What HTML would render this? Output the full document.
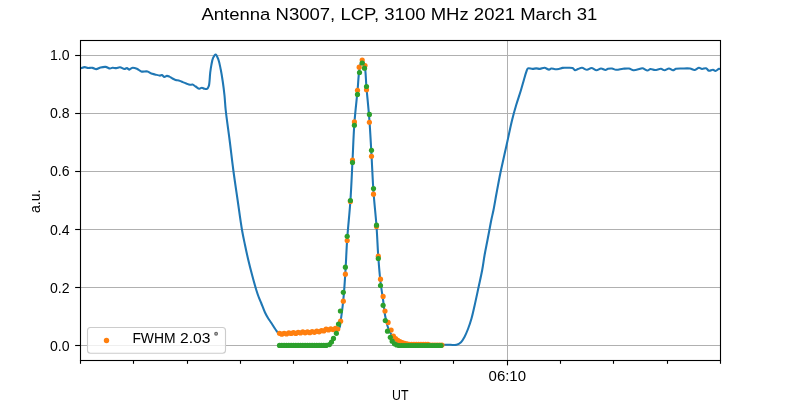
<!DOCTYPE html>
<html><head><meta charset="utf-8"><style>
html,body{margin:0;padding:0;background:#fff;width:800px;height:400px;overflow:hidden}
svg{display:block;will-change:transform}
</style></head><body>
<svg width="800" height="400" viewBox="0 0 800 400">
<rect width="800" height="400" fill="#fff"/>
<g stroke="#b0b0b0" stroke-width="1.11" shape-rendering="crispEdges"><line x1="80" y1="345.50" x2="720" y2="345.50"/><line x1="80" y1="287.50" x2="720" y2="287.50"/><line x1="80" y1="229.50" x2="720" y2="229.50"/><line x1="80" y1="171.50" x2="720" y2="171.50"/><line x1="80" y1="113.50" x2="720" y2="113.50"/><line x1="80" y1="55.50" x2="720" y2="55.50"/><line x1="507.5" y1="40" x2="507.5" y2="360"/></g>
<clipPath id="ax"><rect x="80" y="40" width="641" height="320"/></clipPath>
<g clip-path="url(#ax)">
<path d="M80.00,68.50C81.58,68.03 83.38,67.10 84.75,67.10C85.79,67.10 86.43,67.75 87.50,67.90C88.91,68.10 90.97,67.66 92.50,67.90C93.86,68.11 94.96,69.13 96.25,69.10C97.65,69.07 99.08,67.87 100.60,67.50C102.19,67.12 104.01,66.72 105.60,66.90C107.14,67.08 108.73,68.46 110.00,68.50C110.95,68.53 111.57,67.84 112.50,67.75C113.61,67.64 115.01,68.18 116.25,68.10C117.51,68.02 118.72,67.15 120.00,67.25C121.42,67.36 123.14,68.98 124.40,69.00C125.35,69.02 126.09,68.02 126.90,68.10C127.75,68.18 128.57,69.62 129.40,69.60C130.24,69.58 130.87,68.12 131.90,67.90C133.24,67.61 135.35,68.15 136.90,68.75C138.46,69.35 139.59,71.02 141.25,71.50C143.08,72.03 145.73,71.06 147.50,71.50C148.96,71.87 149.97,73.01 151.25,73.50C152.47,73.96 153.66,74.08 155.00,74.40C156.55,74.77 158.73,75.64 160.00,75.60C160.79,75.57 161.25,74.89 161.90,75.00C162.71,75.14 163.53,76.78 164.40,76.90C165.20,77.01 166.06,75.95 166.90,75.90C167.73,75.86 168.55,76.23 169.40,76.60C170.41,77.04 171.45,77.93 172.50,78.50C173.52,79.06 174.54,79.68 175.60,80.00C176.62,80.30 177.68,80.11 178.75,80.40C179.97,80.73 181.25,81.48 182.50,82.00C183.75,82.52 184.99,83.04 186.25,83.50C187.49,83.96 188.86,84.60 190.00,84.75C190.90,84.87 191.66,84.39 192.50,84.60C193.52,84.85 194.51,85.84 195.60,86.50C196.80,87.22 198.25,88.66 199.40,88.75C200.30,88.82 201.07,87.75 201.90,87.75C202.73,87.75 203.54,88.56 204.40,88.75C205.24,88.94 206.30,89.26 207.00,88.90C207.78,88.50 208.28,87.52 208.75,86.20C209.71,83.50 209.70,76.68 210.20,72.80C210.59,69.82 210.90,67.44 211.40,64.90C211.88,62.49 212.23,59.73 213.10,57.90C213.76,56.51 214.79,54.54 215.60,54.60C216.56,54.67 217.62,57.59 218.40,59.60C219.43,62.24 220.01,65.87 220.70,69.30C221.47,73.12 222.13,77.29 222.75,81.50C223.41,86.00 224.01,90.79 224.50,95.50C225.00,100.29 225.09,104.31 225.70,110.00C226.57,118.21 228.33,130.00 229.60,140.00C230.87,150.00 231.97,160.01 233.30,170.00C234.63,180.01 236.15,190.00 237.60,200.00C239.05,210.00 240.57,221.73 242.00,230.00C243.02,235.87 243.95,240.01 245.00,245.00C246.05,250.01 247.12,255.01 248.30,260.00C249.49,265.01 250.77,270.01 252.10,275.00C253.44,280.01 255.08,286.04 256.30,290.00C257.11,292.63 257.69,294.35 258.50,296.50C259.32,298.68 260.23,300.62 261.20,303.00C262.37,305.86 263.73,309.80 265.00,312.50C266.00,314.62 266.96,316.28 268.00,318.00C268.97,319.60 269.83,320.74 271.00,322.50C272.66,324.99 275.30,329.65 277.00,331.50C277.92,332.51 278.28,333.10 279.50,333.50C281.72,334.22 286.32,333.30 290.00,333.00C294.11,332.67 298.84,331.64 303.00,331.50C306.81,331.37 310.43,332.24 314.00,332.00C317.43,331.77 320.32,330.75 324.00,330.20C328.49,329.53 336.49,330.69 339.00,328.40C340.78,326.78 340.06,324.11 340.60,321.00C341.49,315.80 342.54,307.51 343.30,300.00C344.18,291.35 344.77,281.72 345.40,272.00C346.08,261.45 346.41,250.38 347.20,239.00C348.05,226.77 349.52,213.84 350.40,201.00C351.30,187.84 351.83,174.16 352.50,161.00C353.16,148.17 353.51,135.11 354.40,123.00C355.22,111.87 356.59,100.67 357.50,91.00C358.25,82.98 358.46,74.69 359.50,69.00C360.18,65.30 361.03,60.09 362.00,60.00C362.75,59.93 363.83,62.64 364.50,65.00C365.85,69.80 365.76,79.70 366.50,88.00C367.37,97.79 368.58,109.09 369.40,120.00C370.26,131.40 370.83,143.17 371.50,155.00C372.19,167.16 372.64,179.93 373.50,192.00C374.32,203.58 375.69,214.92 376.50,226.00C377.27,236.57 377.59,247.23 378.30,257.00C378.94,265.79 379.61,274.36 380.50,282.00C381.26,288.50 382.32,294.27 383.10,300.00C383.81,305.22 384.19,310.41 385.00,315.00C385.70,318.97 386.48,322.78 387.50,326.00C388.34,328.64 389.24,330.92 390.40,333.00C391.44,334.87 392.70,336.47 394.00,338.00C395.24,339.46 396.33,341.02 398.00,342.00C399.90,343.12 401.70,343.50 405.00,344.00C412.43,345.12 434.01,344.65 442.00,344.75C445.83,344.80 447.90,344.79 450.50,344.80C452.70,344.81 454.79,345.29 456.60,344.80C458.26,344.35 459.73,343.41 461.00,342.20C462.41,340.86 463.41,338.89 464.50,336.90C465.77,334.58 466.90,331.85 468.00,329.00C469.25,325.78 470.45,322.18 471.50,318.50C472.63,314.54 473.46,310.58 474.50,306.00C475.77,300.44 477.20,293.58 478.50,287.50C479.76,281.59 481.16,275.62 482.20,270.00C483.16,264.82 483.72,259.99 484.60,255.00C485.48,249.99 486.63,244.56 487.50,240.00C488.23,236.19 488.85,232.91 489.50,229.50C490.12,226.25 490.64,223.20 491.30,220.00C491.97,216.70 492.76,213.68 493.50,210.00C494.40,205.51 495.28,200.00 496.20,195.00C497.12,190.00 498.17,184.29 499.00,180.00C499.63,176.76 499.94,175.11 500.70,171.50C502.05,165.11 504.67,153.71 506.60,145.00C508.47,136.55 510.31,127.26 512.10,120.00C513.49,114.35 514.72,109.98 516.20,105.00C517.69,99.98 519.62,94.57 521.00,90.00C522.15,86.20 523.07,82.68 524.00,79.50C524.78,76.84 525.43,74.23 526.20,72.20C526.78,70.67 526.98,68.86 528.00,68.30C529.05,67.72 531.07,68.91 532.50,68.90C533.81,68.89 535.00,68.35 536.25,68.35C537.50,68.35 538.70,68.97 540.00,68.90C541.44,68.82 543.02,67.65 544.50,67.75C546.02,67.86 547.76,69.64 549.00,69.60C549.89,69.57 550.38,68.61 551.25,68.50C552.32,68.36 553.75,69.18 555.00,69.25C556.25,69.32 557.51,69.12 558.75,68.90C560.01,68.67 561.26,68.08 562.50,67.90C563.68,67.73 564.65,67.80 566.00,67.80C567.83,67.80 570.92,67.37 572.50,68.00C573.63,68.45 574.08,70.04 575.00,70.20C575.91,70.36 576.92,69.38 578.00,69.00C579.23,68.57 580.60,67.74 582.00,67.80C583.59,67.87 585.38,69.80 587.00,69.80C588.54,69.80 589.97,67.97 591.50,68.00C593.13,68.03 594.87,70.16 596.50,70.20C598.03,70.24 599.49,68.53 601.00,68.50C602.49,68.47 604.23,70.08 605.50,70.00C606.47,69.94 607.04,69.06 608.00,68.80C609.15,68.49 610.68,68.34 612.00,68.50C613.35,68.66 614.46,69.67 616.00,69.80C617.99,69.97 620.75,69.02 623.00,68.80C625.07,68.60 627.17,68.21 629.00,68.50C630.64,68.76 631.84,70.08 633.50,70.20C635.45,70.35 638.34,69.18 640.00,68.80C641.03,68.57 641.54,68.11 642.50,68.20C643.90,68.34 646.05,70.52 647.50,70.50C648.63,70.48 649.37,69.14 650.50,69.00C651.82,68.84 653.39,69.98 655.00,70.00C656.85,70.02 659.29,68.64 661.00,68.80C662.34,68.92 663.26,70.19 664.50,70.20C665.90,70.21 667.55,68.47 669.00,68.50C670.38,68.53 671.77,70.22 673.00,70.20C674.08,70.18 674.79,69.10 676.00,68.80C677.63,68.40 679.86,68.55 682.00,68.50C684.47,68.44 687.74,68.13 690.00,68.50C691.74,68.78 693.02,70.10 694.50,70.00C696.02,69.90 697.64,67.85 699.00,67.80C700.09,67.76 700.91,68.90 702.00,69.00C703.22,69.11 704.83,67.89 706.00,68.20C707.16,68.51 707.85,70.52 709.00,70.80C710.17,71.08 711.84,69.68 713.00,69.80C713.95,69.90 714.61,71.05 715.50,71.00C716.58,70.94 718.16,68.95 719.00,68.80C719.42,68.72 719.67,68.93 720.00,69.00" fill="none" stroke="#1f77b4" stroke-width="2.08" stroke-linejoin="round" stroke-linecap="square"/>
<g fill="#ff7f0e"><circle cx="279.50" cy="333.35" r="2.6"/><circle cx="281.83" cy="334.21" r="2.6"/><circle cx="284.16" cy="333.27" r="2.6"/><circle cx="286.49" cy="333.98" r="2.6"/><circle cx="288.82" cy="332.80" r="2.6"/><circle cx="291.15" cy="333.45" r="2.6"/><circle cx="293.48" cy="332.55" r="2.6"/><circle cx="295.81" cy="333.45" r="2.6"/><circle cx="298.14" cy="332.40" r="2.6"/><circle cx="300.47" cy="332.99" r="2.6"/><circle cx="302.80" cy="331.78" r="2.6"/><circle cx="305.13" cy="332.86" r="2.6"/><circle cx="307.46" cy="331.94" r="2.6"/><circle cx="309.79" cy="332.67" r="2.6"/><circle cx="312.12" cy="331.59" r="2.6"/><circle cx="314.45" cy="332.31" r="2.6"/><circle cx="316.78" cy="331.17" r="2.6"/><circle cx="319.11" cy="331.81" r="2.6"/><circle cx="321.44" cy="330.60" r="2.6"/><circle cx="323.77" cy="330.90" r="2.6"/><circle cx="326.10" cy="329.14" r="2.6"/><circle cx="328.43" cy="329.88" r="2.6"/><circle cx="330.76" cy="328.81" r="2.6"/><circle cx="333.09" cy="329.55" r="2.6"/><circle cx="335.42" cy="328.42" r="2.6"/><circle cx="337.75" cy="328.99" r="2.6"/><circle cx="340.60" cy="321.20" r="2.6"/><circle cx="343.30" cy="301.20" r="2.6"/><circle cx="345.40" cy="274.20" r="2.6"/><circle cx="347.20" cy="240.50" r="2.6"/><circle cx="350.40" cy="201.50" r="2.6"/><circle cx="352.50" cy="160.00" r="2.6"/><circle cx="354.40" cy="121.90" r="2.6"/><circle cx="357.50" cy="90.25" r="2.6"/><circle cx="359.20" cy="67.20" r="2.6"/><circle cx="362.20" cy="60.00" r="2.6"/><circle cx="365.00" cy="65.50" r="2.6"/><circle cx="366.50" cy="89.75" r="2.6"/><circle cx="369.40" cy="122.25" r="2.6"/><circle cx="371.50" cy="156.25" r="2.6"/><circle cx="373.50" cy="194.20" r="2.6"/><circle cx="376.50" cy="226.50" r="2.6"/><circle cx="378.30" cy="256.20" r="2.6"/><circle cx="380.50" cy="279.20" r="2.6"/><circle cx="383.10" cy="296.40" r="2.6"/><circle cx="385.00" cy="311.00" r="2.6"/><circle cx="388.10" cy="322.40" r="2.6"/><circle cx="391.10" cy="330.00" r="2.6"/><circle cx="393.40" cy="336.00" r="2.6"/><circle cx="395.60" cy="338.50" r="2.6"/><circle cx="397.80" cy="340.30" r="2.6"/><circle cx="400.00" cy="341.70" r="2.6"/><circle cx="402.30" cy="342.70" r="2.6"/><circle cx="404.60" cy="343.40" r="2.6"/><circle cx="407.00" cy="343.90" r="2.6"/><circle cx="409.30" cy="344.40" r="2.6"/><circle cx="411.63" cy="344.40" r="2.6"/><circle cx="413.96" cy="344.40" r="2.6"/><circle cx="416.29" cy="344.40" r="2.6"/><circle cx="418.62" cy="344.40" r="2.6"/><circle cx="420.95" cy="344.40" r="2.6"/><circle cx="423.28" cy="344.40" r="2.6"/><circle cx="425.61" cy="344.40" r="2.6"/><circle cx="427.94" cy="344.40" r="2.6"/><circle cx="430.27" cy="345.10" r="2.6"/><circle cx="432.60" cy="345.10" r="2.6"/><circle cx="434.93" cy="345.10" r="2.6"/><circle cx="437.26" cy="345.10" r="2.6"/><circle cx="439.59" cy="345.10" r="2.6"/><circle cx="441.92" cy="345.10" r="2.6"/></g>
<g fill="#2ca02c"><circle cx="279.50" cy="345.40" r="2.6"/><circle cx="281.83" cy="345.40" r="2.6"/><circle cx="284.16" cy="345.40" r="2.6"/><circle cx="286.49" cy="345.40" r="2.6"/><circle cx="288.82" cy="345.40" r="2.6"/><circle cx="291.15" cy="345.40" r="2.6"/><circle cx="293.48" cy="345.40" r="2.6"/><circle cx="295.81" cy="345.40" r="2.6"/><circle cx="298.14" cy="345.40" r="2.6"/><circle cx="300.47" cy="345.40" r="2.6"/><circle cx="302.80" cy="345.40" r="2.6"/><circle cx="305.13" cy="345.40" r="2.6"/><circle cx="307.46" cy="345.40" r="2.6"/><circle cx="309.79" cy="345.40" r="2.6"/><circle cx="312.12" cy="345.40" r="2.6"/><circle cx="314.45" cy="345.40" r="2.6"/><circle cx="316.78" cy="345.40" r="2.6"/><circle cx="319.11" cy="345.40" r="2.6"/><circle cx="321.44" cy="345.40" r="2.6"/><circle cx="323.77" cy="345.40" r="2.6"/><circle cx="326.10" cy="345.40" r="2.6"/><circle cx="329.40" cy="344.60" r="2.6"/><circle cx="331.50" cy="342.10" r="2.6"/><circle cx="333.50" cy="338.40" r="2.6"/><circle cx="336.40" cy="333.30" r="2.6"/><circle cx="338.50" cy="324.10" r="2.6"/><circle cx="340.40" cy="311.00" r="2.6"/><circle cx="343.30" cy="292.30" r="2.6"/><circle cx="345.40" cy="267.20" r="2.6"/><circle cx="347.20" cy="236.30" r="2.6"/><circle cx="350.40" cy="200.50" r="2.6"/><circle cx="352.50" cy="162.50" r="2.6"/><circle cx="354.40" cy="125.25" r="2.6"/><circle cx="357.50" cy="94.40" r="2.6"/><circle cx="359.50" cy="72.50" r="2.6"/><circle cx="362.20" cy="63.00" r="2.6"/><circle cx="364.50" cy="68.20" r="2.6"/><circle cx="366.50" cy="86.50" r="2.6"/><circle cx="369.40" cy="114.40" r="2.6"/><circle cx="371.50" cy="150.25" r="2.6"/><circle cx="373.50" cy="188.50" r="2.6"/><circle cx="376.50" cy="225.20" r="2.6"/><circle cx="378.30" cy="258.50" r="2.6"/><circle cx="380.50" cy="285.50" r="2.6"/><circle cx="383.10" cy="305.30" r="2.6"/><circle cx="385.30" cy="320.50" r="2.6"/><circle cx="387.50" cy="331.20" r="2.6"/><circle cx="390.30" cy="337.30" r="2.6"/><circle cx="392.20" cy="341.20" r="2.6"/><circle cx="394.50" cy="343.80" r="2.6"/><circle cx="396.80" cy="345.00" r="2.6"/><circle cx="399.10" cy="345.50" r="2.6"/><circle cx="401.43" cy="345.50" r="2.6"/><circle cx="403.76" cy="345.50" r="2.6"/><circle cx="406.09" cy="345.50" r="2.6"/><circle cx="408.42" cy="345.50" r="2.6"/><circle cx="410.75" cy="345.50" r="2.6"/><circle cx="413.08" cy="345.50" r="2.6"/><circle cx="415.41" cy="345.50" r="2.6"/><circle cx="417.74" cy="345.50" r="2.6"/><circle cx="420.07" cy="345.50" r="2.6"/><circle cx="422.40" cy="345.50" r="2.6"/><circle cx="424.73" cy="345.50" r="2.6"/><circle cx="427.06" cy="345.50" r="2.6"/><circle cx="429.39" cy="345.50" r="2.6"/><circle cx="431.72" cy="345.50" r="2.6"/><circle cx="434.05" cy="345.50" r="2.6"/><circle cx="436.38" cy="345.50" r="2.6"/><circle cx="438.71" cy="345.50" r="2.6"/><circle cx="441.04" cy="345.50" r="2.6"/></g>
</g>
<rect x="87.5" y="327.5" width="138" height="25.8" rx="3" fill="#fff" fill-opacity="0.8" stroke="#cccccc" stroke-width="1.11"/>
<circle cx="106.5" cy="340.5" r="2.7" fill="#ff7f0e"/>
<g font-family='"Liberation Sans", sans-serif' font-size="13.89" fill="#000">
<text x="132.4" y="343.2" textLength="43.2" lengthAdjust="spacingAndGlyphs">FWHM</text><text x="180.1" y="343.2" textLength="30.4" lengthAdjust="spacingAndGlyphs">2.03</text>
<circle cx="216.1" cy="333.8" r="1.35" fill="#c8c8c8" stroke="#6a6a6a" stroke-width="1.2"/>
<text x="69.6" y="350.50" text-anchor="end" textLength="19.6" lengthAdjust="spacingAndGlyphs">0.0</text><text x="69.6" y="292.50" text-anchor="end" textLength="19.6" lengthAdjust="spacingAndGlyphs">0.2</text><text x="69.6" y="234.50" text-anchor="end" textLength="19.6" lengthAdjust="spacingAndGlyphs">0.4</text><text x="69.6" y="175.60" text-anchor="end" textLength="19.6" lengthAdjust="spacingAndGlyphs">0.6</text><text x="69.6" y="117.60" text-anchor="end" textLength="19.6" lengthAdjust="spacingAndGlyphs">0.8</text><text x="69.6" y="59.60" text-anchor="end" textLength="19.6" lengthAdjust="spacingAndGlyphs">1.0</text>
<text x="507.3" y="380.9" text-anchor="middle" textLength="37.5" lengthAdjust="spacingAndGlyphs">06:10</text>
<text x="400.2" y="400" text-anchor="middle" textLength="16.5" lengthAdjust="spacingAndGlyphs">UT</text>
<text transform="translate(40.1,201.3) rotate(-90)" text-anchor="middle" textLength="23.5" lengthAdjust="spacingAndGlyphs">a.u.</text>
</g>
<text x="399.4" y="19.9" text-anchor="middle" font-family='"Liberation Sans", sans-serif' font-size="16.67" textLength="396" lengthAdjust="spacingAndGlyphs">Antenna N3007, LCP, 3100 MHz 2021 March 31</text>
<g stroke="#000" stroke-width="1.11"><line x1="75.14" y1="345.50" x2="80.5" y2="345.50"/><line x1="75.14" y1="287.50" x2="80.5" y2="287.50"/><line x1="75.14" y1="229.50" x2="80.5" y2="229.50"/><line x1="75.14" y1="171.50" x2="80.5" y2="171.50"/><line x1="75.14" y1="113.50" x2="80.5" y2="113.50"/><line x1="75.14" y1="55.50" x2="80.5" y2="55.50"/><line x1="80.50" y1="360" x2="80.50" y2="363.8"/><line x1="133.50" y1="360" x2="133.50" y2="363.8"/><line x1="187.50" y1="360" x2="187.50" y2="363.8"/><line x1="240.50" y1="360" x2="240.50" y2="363.8"/><line x1="293.50" y1="360" x2="293.50" y2="363.8"/><line x1="347.50" y1="360" x2="347.50" y2="363.8"/><line x1="400.50" y1="360" x2="400.50" y2="363.8"/><line x1="453.50" y1="360" x2="453.50" y2="363.8"/><line x1="507.50" y1="360" x2="507.50" y2="365.36"/><line x1="560.50" y1="360" x2="560.50" y2="363.8"/><line x1="613.50" y1="360" x2="613.50" y2="363.8"/><line x1="667.50" y1="360" x2="667.50" y2="363.8"/><line x1="720.50" y1="360" x2="720.50" y2="363.8"/></g>
<rect x="80.5" y="40.5" width="640" height="320" fill="none" stroke="#000" stroke-width="1.11"/>
</svg>
</body></html>
